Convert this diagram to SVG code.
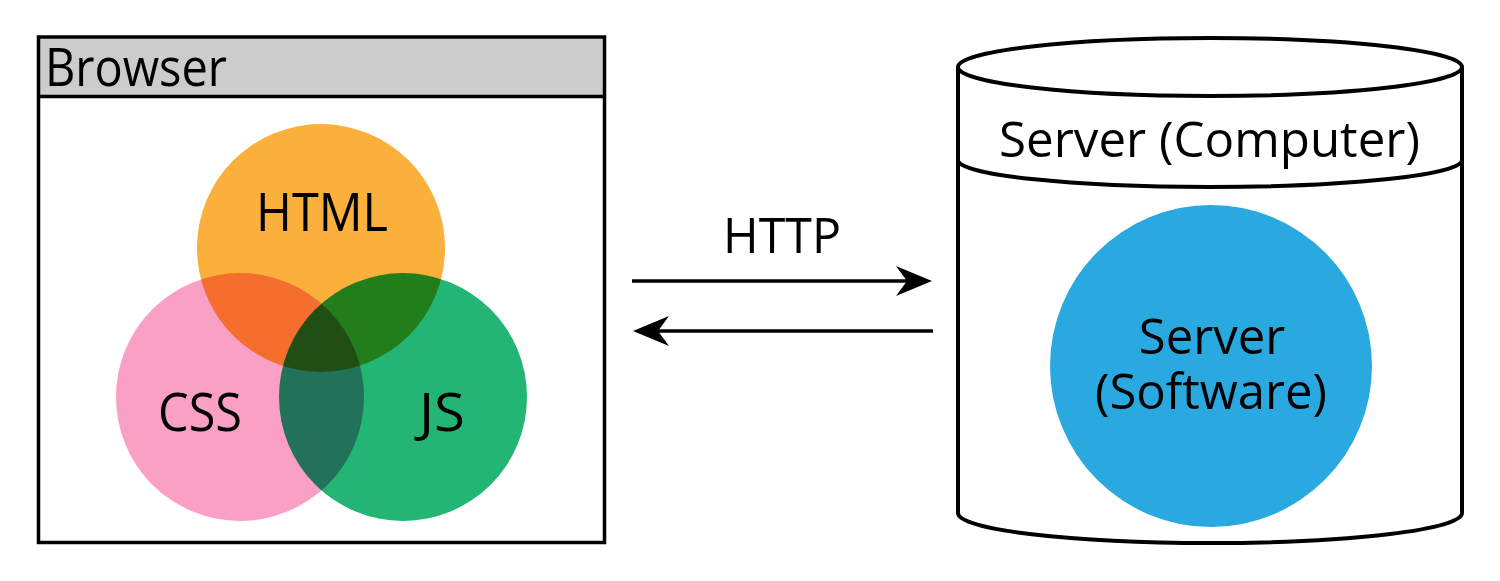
<svg xmlns="http://www.w3.org/2000/svg" width="1500" height="581" viewBox="0 0 1500 581">
  <style>
    .lbl { font-family: "Open Sans", "Noto Sans", "Liberation Sans", sans-serif; fill: #000; }
    .big { font-size: 53px; }
    .med { font-size: 49px; }
    .venn { mix-blend-mode: multiply; }
    .frame { fill: none; stroke: #000; stroke-width: 3.5; }
    .cyl { fill: #fff; stroke: #000; stroke-width: 4; }
    .conn { fill: none; stroke: #000; stroke-width: 3.5; }
  </style>
  <defs>
    <marker id="head" viewBox="0 0 36 30" refX="11" refY="15" markerWidth="36" markerHeight="30" markerUnits="userSpaceOnUse" orient="auto">
      <path d="M0,0 L36,15 L0,30 L11,15 Z" fill="#000"/>
    </marker>
  </defs>
  <rect width="1500" height="581" fill="#fff"/>

  <g id="browser">
    <rect x="38.5" y="37" width="566" height="59.5" fill="#cccccc"/>
    <rect class="frame" x="38.5" y="37" width="566" height="505.5"/>
    <line class="frame" x1="38.5" y1="96.5" x2="604.5" y2="96.5"/>
    <text class="lbl big" x="45" y="86" textLength="182" lengthAdjust="spacingAndGlyphs">Browser</text>
  </g>

  <g id="venn" style="isolation:isolate">
    <g id="html">
      <circle class="venn" cx="321" cy="248" r="124" fill="#FBB03B"/>
    </g>
    <g id="css">
      <circle class="venn" cx="240" cy="397" r="124" fill="#F9A0C4"/>
    </g>
    <g id="js">
      <circle class="venn" cx="403" cy="397" r="124" fill="#22B573"/>
    </g>
    <text class="lbl big" x="256" y="231" textLength="132" lengthAdjust="spacingAndGlyphs">HTML</text>
    <text class="lbl big" x="158" y="431" textLength="84" lengthAdjust="spacingAndGlyphs">CSS</text>
    <text class="lbl big" x="419" y="431" textLength="46" lengthAdjust="spacingAndGlyphs">JS</text>
  </g>

  <g id="connectors">
    <line class="conn" x1="632" y1="281" x2="907" y2="281" marker-end="url(#head)"/>
    <line class="conn" x1="933" y1="331" x2="658" y2="331" marker-end="url(#head)"/>
    <text class="lbl med" x="723" y="253" textLength="118" lengthAdjust="spacingAndGlyphs">HTTP</text>
  </g>

  <g id="server-computer">
    <path class="cyl" d="M958,67 L958,513 A252,30 0 0 0 1462,513 L1462,67"/>
    <ellipse class="cyl" cx="1210" cy="67" rx="252" ry="29"/>
    <path class="cyl" d="M958,160 A252,27 0 0 0 1462,160" style="fill:none"/>
    <text class="lbl med" x="999" y="157" textLength="421" lengthAdjust="spacingAndGlyphs">Server (Computer)</text>
  </g>

  <g id="server-software">
    <circle cx="1211" cy="366" r="161" fill="#29A9E0"/>
    <text class="lbl med" text-anchor="middle"><tspan x="1212" y="354">Server</tspan><tspan x="1211" y="409">(Software)</tspan></text>
  </g>
</svg>
